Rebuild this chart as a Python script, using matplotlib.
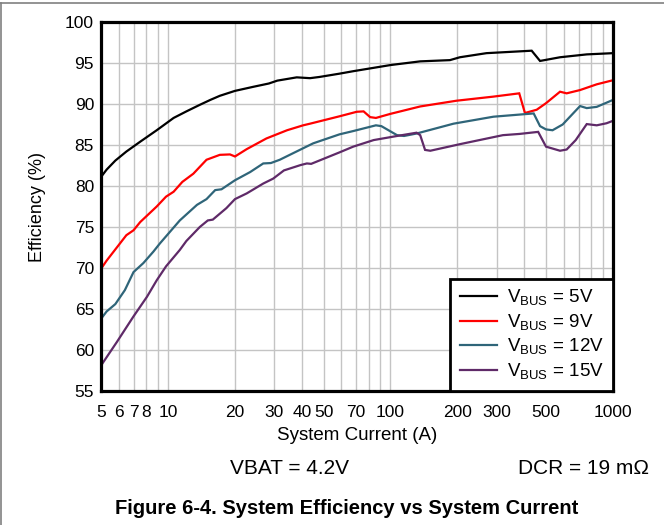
import matplotlib
matplotlib.use("Agg")
import matplotlib.pyplot as plt
from matplotlib.lines import Line2D
from matplotlib.ticker import FixedLocator, NullFormatter

plt.rcParams["font.family"] = ["Liberation Sans", "DejaVu Sans"]
plt.rcParams["mathtext.fontset"] = "custom"
plt.rcParams["mathtext.rm"] = "Liberation Sans"

# VBUS = 5V
black_I = [5, 5.3, 5.8, 6.5, 7.5, 8.9, 10.6, 12.1, 13.9, 15.5, 17.1, 20, 24.2, 28.4, 31, 37.9,
           43.5, 48, 59, 68, 100, 136, 185, 205, 270, 369, 431, 470, 578, 762, 1000]
black_E = [81.1, 82.0, 83.1, 84.2, 85.4, 86.8, 88.3, 89.1, 89.9, 90.5, 91.0, 91.6, 92.1, 92.5, 92.85, 93.25,
           93.15, 93.3, 93.7, 94.0, 94.75, 95.2, 95.35, 95.7, 96.2, 96.4, 96.5, 95.25, 95.7, 96.05, 96.2]

# VBUS = 9V
red_I = [5, 5.3, 6.5, 7, 7.5, 8.9, 9.8, 10.6, 11.6, 13, 14.9, 17.1, 19, 20, 22.6, 27.7, 34.3, 40.5,
         43.5, 59, 70.5, 75.7, 81, 86, 100, 136, 198, 290, 379, 402, 454, 500, 578, 619, 711, 845, 1000]
red_E = [69.9, 70.9, 74.0, 74.6, 75.6, 77.5, 78.7, 79.3, 80.5, 81.5, 83.2, 83.8, 83.85, 83.6, 84.5, 85.8, 86.8, 87.4,
         87.6, 88.5, 89.05, 89.1, 88.4, 88.3, 88.8, 89.7, 90.4, 90.9, 91.3, 88.9, 89.3, 90.1, 91.5, 91.3, 91.7, 92.4, 92.9]

# VBUS = 12V
teal_I = [5, 5.3, 5.8, 6.4, 7, 7.75, 8.6, 9.2, 11.3, 13.5, 14.9, 16.3, 17.4, 20, 23.4, 26.8, 29, 31.8,
          36.5, 44.9, 59, 68, 86, 91, 107, 115, 131, 192, 290, 440, 470, 500, 535, 594, 711, 762, 845, 1000]
teal_E = [63.8, 64.7, 65.6, 67.3, 69.5, 70.6, 72.0, 73.0, 75.8, 77.7, 78.4, 79.5, 79.6, 80.7, 81.7, 82.75, 82.8, 83.2,
          84.0, 85.2, 86.3, 86.7, 87.4, 87.3, 86.2, 86.1, 86.4, 87.6, 88.45, 88.85, 87.3, 86.9, 86.8, 87.5, 89.75, 89.5, 89.65, 90.5]

# VBUS = 15V
purple_I = [5, 5.9, 7, 8.05, 8.9, 9.8, 11.3, 12.1, 13.9, 15.1, 15.9, 18.3, 20, 22.6, 26.8, 29.7, 33.2, 39.4,
            42.1, 44, 59, 68, 84, 107, 131, 136, 143, 151, 205, 320, 380, 461, 500, 578, 619, 680, 762, 845, 935, 1000]
purple_E = [58.1, 61.0, 64.1, 66.5, 68.5, 70.2, 72.2, 73.3, 75.0, 75.8, 75.9, 77.3, 78.4, 79.1, 80.3, 80.9, 81.9, 82.55,
            82.75, 82.7, 84.1, 84.8, 85.6, 86.1, 86.5, 86.2, 84.4, 84.3, 85.1, 86.2, 86.35, 86.6, 84.8, 84.3, 84.45, 85.6,
            87.55, 87.4, 87.65, 87.95]

x_ticks = [5, 6, 7, 8, 10, 20, 30, 40, 50, 70, 100, 200, 300, 500, 1000]
x_grid = [5, 6, 7, 8, 9, 10, 20, 30, 40, 50, 60, 70, 80, 90, 100, 200, 300, 400, 500, 600, 700, 800, 900, 1000]
y_ticks = [55, 60, 65, 70, 75, 80, 85, 90, 95, 100]

series = [
    (black_I, black_E, "black", r"V$_{\mathrm{BUS}}$ = 5V"),
    (red_I, red_E, "#ff0000", r"V$_{\mathrm{BUS}}$ = 9V"),
    (teal_I, teal_E, "#2f6579", r"V$_{\mathrm{BUS}}$ = 12V"),
    (purple_I, purple_E, "#5f2a68", r"V$_{\mathrm{BUS}}$ = 15V"),
]

fig = plt.figure(figsize=(6.64, 5.25), dpi=100)
ax = fig.add_axes([101 / 664, 1 - 391 / 525, 512 / 664, 369 / 525])

ax.set_xscale("log")
ax.set_xlim(5, 1000)
ax.set_ylim(55, 100)

for xv in x_grid:
    ax.axvline(xv, color="#c4c4c4", lw=1.0, zorder=1)
for yv in y_ticks:
    ax.axhline(yv, color="#c4c4c4", lw=1.0, zorder=1)

for xs, ys, color, label in series:
    ax.plot(xs, ys, color=color, lw=1.6, label=label, zorder=3, solid_joinstyle="miter")

ax.xaxis.set_major_locator(FixedLocator(x_ticks))
ax.xaxis.set_minor_formatter(NullFormatter())
ax.xaxis.set_minor_locator(FixedLocator([]))
ax.set_xticklabels([str(v) for v in x_ticks])
ax.set_yticks(y_ticks)
ax.tick_params(axis="both", length=0, labelsize=12.5)
ax.tick_params(axis="x", pad=10)
ax.tick_params(axis="y", pad=5)

for spine in ax.spines.values():
    spine.set_linewidth(2.3)
    spine.set_color("black")
    spine.set_zorder(5)

ax.set_xlabel("System Current (A)", fontsize=13.5, labelpad=5)
ax.yaxis.set_label_coords(-0.108, 0.53)
ax.set_ylabel("Efficiency (%)", fontsize=13)

leg = ax.legend(loc="lower right", borderaxespad=0, fontsize=13.5, fancybox=False,
                framealpha=1, edgecolor="black", handlelength=2.0, labelspacing=0.22,
                borderpad=0.5, handletextpad=0.5)
leg.get_frame().set_linewidth(2.0)
leg.set_zorder(6)

fig.text(290 / 664, 1 - 468 / 525, "VBAT = 4.2V", ha="center", va="center", fontsize=15)
fig.text(583 / 664, 1 - 468 / 525, "DCR = 19 m\u03a9", ha="center", va="center", fontsize=15)
fig.text(347 / 664, 1 - 508 / 525, "Figure 6-4. System Efficiency vs System Current",
         ha="center", va="center", fontsize=14.5, fontweight="bold")

fig.add_artist(Line2D([0, 1], [1 - 3 / 525, 1 - 3 / 525], color="#808080", lw=1.2))
fig.add_artist(Line2D([1 / 664, 1 / 664], [0, 1 - 3 / 525], color="#808080", lw=1.2))

fig.savefig("out.png", dpi=100)
